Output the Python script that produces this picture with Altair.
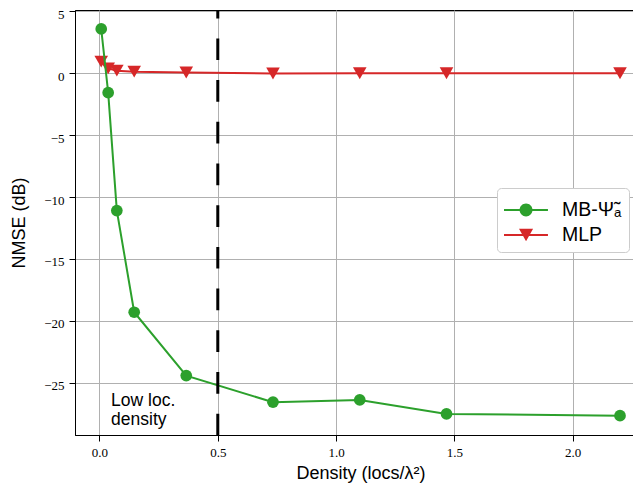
import altair as alt
import pandas as pd

# ---- data ----
density = [0.0073, 0.0367, 0.0733, 0.1467, 0.3667, 0.7333, 1.1, 1.4667, 2.2]
nmse_mb = [3.58, -1.57, -11.1, -19.31, -24.43, -26.58, -26.4, -27.53, -27.67]
nmse_mlp = [0.94, 0.40, 0.21, 0.13, 0.06, -0.02, 0.0, 0.0, 0.0]
series_names = ["MB-Ψ̃ₐ", "MLP"]
series_colors = ["#2ca02c", "#d62728"]
threshold = [0.5]
note_x = [0.049]
note_y = [-26.88]
note_text = ["Low loc.\ndensity"]
x_ticks = [0.0, 0.5, 1.0, 1.5, 2.0]
y_ticks = [-25, -20, -15, -10, -5, 0, 5]
x_domain = [-0.1035, 2.2887]
y_domain = [-29.23, 5.11]

SANS = "Liberation Sans"
SERIF = "Liberation Serif"

df = pd.DataFrame({
    "density": density + density,
    "nmse": nmse_mb + nmse_mlp,
    "series": [series_names[0]] * len(density) + [series_names[1]] * len(density),
})
rule_df = pd.DataFrame({"x": threshold})
note_df = pd.DataFrame({"x": note_x, "y": note_y, "t": note_text})

W, H = 566, 425

x_enc = alt.X("density:Q",
              scale=alt.Scale(domain=x_domain, nice=False, zero=False),
              axis=alt.Axis(values=x_ticks, format=".1f", title="Density (locs/λ²)",
                            titleX=285.5, titleY=43, titleBaseline="alphabetic",
                            titleAnchor=None))
y_enc = alt.Y("nmse:Q",
              scale=alt.Scale(domain=y_domain, nice=False, zero=False),
              axis=alt.Axis(values=y_ticks, format="d", title="NMSE (dB)",
                            titleX=-56, titleY=H / 2, titleBaseline="middle",
                            titleAngle=-90, labelOffset=3))

base = alt.Chart(df)

layers = []
order = [1, 0]  # MLP first, MB on top
shapes = {0: ("circle", 137), 1: ("triangle-down", 185)}
for i in order:
    name = series_names[i]
    sub = base.transform_filter(alt.datum.series == name)
    layers.append(sub.mark_line(strokeWidth=2, color=series_colors[i]).encode(x=x_enc, y=y_enc))
    shp, sz = shapes[i]
    layers.append(sub.mark_point(filled=True, opacity=1, shape=shp, size=sz,
                                 color=series_colors[i], strokeWidth=0).encode(x=x_enc, y=y_enc))

# legend carrier (no marks drawn, entries from the explicit scale domains)
circle_path = ("M-1,-0.07 L1.93,-0.07 L1.93,0.07 L-1,0.07 Z "
               "M0.9,0 A0.43,0.43 0 1,1 0.04,0 A0.43,0.43 0 1,1 0.9,0 Z")
tri_path = ("M-1,-0.07 L1.93,-0.07 L1.93,0.07 L-1,0.07 Z "
            "M0,-0.42 L0.94,-0.42 L0.47,0.42 Z")
legend_layer = base.transform_filter("false").mark_point(filled=True, opacity=1).encode(
    x=x_enc, y=y_enc,
    color=alt.Color("series:N", scale=alt.Scale(domain=series_names, range=series_colors),
                    legend=alt.Legend(title=None)),
    shape=alt.Shape("series:N", scale=alt.Scale(domain=series_names, range=[circle_path, tri_path]),
                    legend=alt.Legend(title=None)),
)
layers.append(legend_layer)

rule = alt.Chart(rule_df).mark_rule(color="black", strokeWidth=3,
                                    strokeDash=[21.7, 20], strokeDashOffset=13.3).encode(x="x:Q")
layers.append(rule)

note = alt.Chart(note_df).mark_text(align="left", baseline="alphabetic", lineBreak="\n",
                                     lineHeight=19, fontSize=17.5, font=SANS, color="black").encode(
    x="x:Q", y="y:Q", text="t:N")
layers.append(note)

chart = alt.layer(*layers).properties(
    width=W, height=H,
    autosize=alt.AutoSizeParams(type="none"),
    padding={"left": 67, "top": 2, "right": -8, "bottom": 50},
).configure_view(
    stroke="black", strokeWidth=1
).configure_axis(
    grid=True, gridColor="#b0b0b0", gridWidth=1,
    domainColor="black", domainWidth=1,
    tickColor="black", tickSize=6, tickWidth=1,
    labelFont=SERIF, labelFontSize=13, labelColor="black", labelPadding=5,
    titleFont=SANS, titleFontSize=18, titleFontWeight="normal", titleColor="black",
).configure_legend(
    orient="none", legendX=422, legendY=178,
    symbolSize=900, symbolOpacity=1, symbolStrokeWidth=0,
    labelFont=SANS, labelFontSize=19.5, labelColor="black", labelOffset=28,
    padding=7, rowPadding=0, strokeColor="#cccccc", strokeWidth=1, cornerRadius=4,
    fillColor="white",
)

chart.save("out.html", embed_options={"renderer": "svg", "actions": False})
